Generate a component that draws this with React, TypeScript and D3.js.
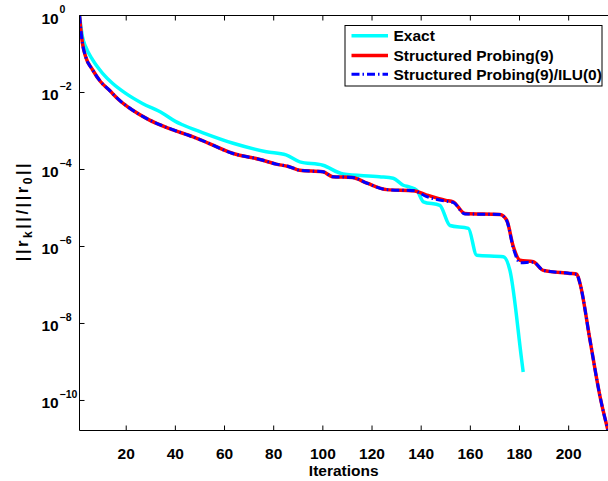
import React from "react";
import * as d3 from "d3";

// ---- data ----
const exactIter = [1, 1.5, 2.2, 3.5, 6.3, 10.3, 14.4, 19.8, 26.6, 34.8, 40, 42.9, 51, 63.5, 77, 85, 90.6, 100, 108.3, 123, 128.6, 132.7, 135.4, 138.2, 140.9, 147.6, 151.7, 159.2, 162.6, 173.4, 176.1, 180.9, 181.5];
const exactRes = [1, 5.6e-1, 2.8e-1, 1.55e-1, 7.1e-2, 3.2e-2, 1.74e-2, 9.5e-3, 5.2e-3, 2.9e-3, 1.78e-3, 1.45e-3, 9.1e-4, 4.8e-4, 2.9e-4, 2.4e-4, 1.58e-4, 1.29e-4, 7.6e-5, 6.5e-5, 5.9e-5, 3.9e-5, 3.5e-5, 2.9e-5, 1.45e-5, 1.17e-5, 3.5e-6, 2.95e-6, 5.9e-7, 5.4e-7, 2.4e-7, 1.1e-9, 5.5e-10];

const probIter = [1, 1.5, 2.2, 3.5, 6.3, 9.6, 13, 17, 22.5, 29.3, 37.4, 47, 50, 63.5, 74.4, 81, 86, 90.6, 100, 104, 112, 118, 126, 137, 142, 150, 153, 157.8, 172, 174.8, 177.5, 180.2, 185.6, 189.7, 200.5, 203.3, 204.6, 208.7, 212.8, 216];
const probRes = [1, 4.5e-1, 1.9e-1, 8.5e-2, 3.9e-2, 1.9e-2, 1.17e-2, 6.5e-3, 3.5e-3, 1.95e-3, 1.17e-3, 7.1e-4, 6.0e-4, 2.6e-4, 1.82e-4, 1.38e-4, 1.2e-4, 9.5e-5, 8.7e-5, 6.5e-5, 6.2e-5, 4.4e-5, 3.0e-5, 2.8e-5, 2.2e-5, 1.58e-5, 1.45e-5, 7.2e-6, 6.8e-6, 4.8e-6, 9.8e-7, 4.4e-7, 4.0e-7, 2.4e-7, 2.0e-7, 1.9e-7, 1.1e-7, 3.6e-9, 1.23e-10, 1.66e-11];

const iluIter = [1, 1.5, 2.2, 3.5, 6.3, 9.6, 13, 17, 22.5, 29.3, 37.4, 47, 50, 63.5, 74.4, 81, 86, 90.6, 100, 104, 112, 118, 126, 137, 142, 150, 153, 157.8, 172, 174.8, 177.5, 180.2, 185.6, 189.7, 200.5, 203.3, 204.6, 208.7, 212.8, 216];
const iluRes = [1, 4.5e-1, 1.9e-1, 8.5e-2, 3.9e-2, 1.9e-2, 1.17e-2, 6.5e-3, 3.5e-3, 1.95e-3, 1.17e-3, 7.1e-4, 6.0e-4, 2.6e-4, 1.82e-4, 1.38e-4, 1.2e-4, 9.5e-5, 8.7e-5, 6.5e-5, 6.2e-5, 4.4e-5, 3.0e-5, 2.8e-5, 2.0e-5, 1.5e-5, 1.4e-5, 7.0e-6, 6.8e-6, 4.7e-6, 9.0e-7, 3.8e-7, 3.9e-7, 2.4e-7, 2.0e-7, 1.9e-7, 1.1e-7, 3.6e-9, 1.23e-10, 1.66e-11];

const xTicks = [20, 40, 60, 80, 100, 120, 140, 160, 180, 200];
const yTickExps = [0, -2, -4, -6, -8, -10];
const legendLabels = ["Exact", "Structured Probing(9)", "Structured Probing(9)/ILU(0)"];

const W = 608;
const H = 481;
const M = { left: 79.5, top: 15.5, right: 608, bottom: 430.5 };
const FONT = "'Liberation Sans', Arial, Helvetica, sans-serif";

export default function App() {
  const x = d3.scaleLinear().domain([1, 216]).range([M.left, M.right]);
  const y = d3.scaleLog().domain([1.66e-11, 1]).range([M.bottom, M.top]);

  const mk = (xs: number[], ys: number[]) =>
    d3
      .line<number>()
      .x((_, i) => x(xs[i]))
      .y((_, i) => y(ys[i]))
      .curve(d3.curveMonotoneX)(ys) || "";

  const series = [
    { d: mk(exactIter, exactRes), color: "#00ffff", width: 3.5, dash: undefined as string | undefined },
    { d: mk(probIter, probRes), color: "#ff0000", width: 3.5, dash: undefined },
    { d: mk(iluIter, iluRes), color: "#0000ff", width: 3, dash: "8,3,1.5,3" },
  ];

  const legendX0 = 345, legendX1 = 602, legendY0 = 25.5, legendY1 = 86;
  const legendRows = [35.7, 55.5, 74.3];

  return (
    <svg width={W} height={H} style={{ position: "absolute", left: 0, top: 0, background: "#fff" }}>
      <defs>
        <clipPath id="plotclip">
          <rect x={M.left} y={M.top - 2} width={M.right - M.left + 2} height={M.bottom - M.top + 2} />
        </clipPath>
      </defs>
      <rect x={0} y={0} width={W} height={H} fill="#fff" />
      {/* curves */}
      <g clipPath="url(#plotclip)" fill="none" strokeLinejoin="round">
        {series.map((s, i) => (
          <path key={i} d={s.d} stroke={s.color} strokeWidth={s.width} strokeDasharray={s.dash} strokeLinecap="butt" />
        ))}
      </g>
      {/* frame */}
      <g stroke="#000" strokeWidth={1} fill="none">
        <line x1={M.left} y1={M.top} x2={M.right} y2={M.top} />
        <line x1={M.left} y1={M.bottom} x2={M.right} y2={M.bottom} />
        <line x1={M.left} y1={M.top} x2={M.left} y2={M.bottom} />
        {xTicks.map((t) => (
          <g key={t}>
            <line x1={x(t)} x2={x(t)} y1={M.bottom} y2={M.bottom - 5} />
            <line x1={x(t)} x2={x(t)} y1={M.top} y2={M.top + 5} />
          </g>
        ))}
        {yTickExps.map((e) => (
          <line key={e} x1={M.left} x2={M.left + 5} y1={y(Math.pow(10, e))} y2={y(Math.pow(10, e))} />
        ))}
      </g>
      {/* x tick labels */}
      <g fontFamily={FONT} fontWeight="bold" fontSize={15.5} fill="#000">
        {xTicks.map((t) => (
          <text key={t} x={x(t)} y={459} textAnchor="middle">
            {t}
          </text>
        ))}
        <text x={(M.left + M.right) / 2} y={476} textAnchor="middle">
          Iterations
        </text>
      </g>
      {/* y tick labels */}
      <g fontFamily={FONT} fontWeight="bold" fill="#000">
        {yTickExps.map((e) => {
          const ty = y(Math.pow(10, e));
          return (
            <g key={e}>
              <text x={41.5} y={ty + 8} fontSize={15.5}>
                10
              </text>
              <text x={59.5} y={ty - 2.5} fontSize={10.5}>
                {e === 0 ? "0" : "\u2212" + Math.abs(e)}
              </text>
            </g>
          );
        })}
      </g>
      {/* y axis label */}
      <g transform={`translate(28,${211}) rotate(-90)`} fontFamily={FONT} fontWeight="bold" fill="#000">
        <text x={0} y={0} textAnchor="middle" fontSize={16.5} letterSpacing={2.5}>
          <tspan>||r</tspan>
          <tspan fontSize={12} dy={3.5}>k</tspan>
          <tspan dy={-3.5}>||/||r</tspan>
          <tspan fontSize={12} dy={3.5}>0</tspan>
          <tspan dy={-3.5}>||</tspan>
        </text>
      </g>
      {/* legend */}
      <rect x={legendX0} y={legendY0} width={legendX1 - legendX0} height={legendY1 - legendY0} fill="#fff" stroke="#000" strokeWidth={1} />
      {legendLabels.map((lab, i) => (
        <g key={lab}>
          <line
            x1={351.5}
            x2={388}
            y1={legendRows[i]}
            y2={legendRows[i]}
            stroke={series[i].color}
            strokeWidth={series[i].width}
            strokeDasharray={series[i].dash}
          />
          <text x={393.5} y={legendRows[i] + 5.5} fontFamily={FONT} fontWeight="bold" fontSize={15.5} fill="#000">
            {lab}
          </text>
        </g>
      ))}
    </svg>
  );
}
